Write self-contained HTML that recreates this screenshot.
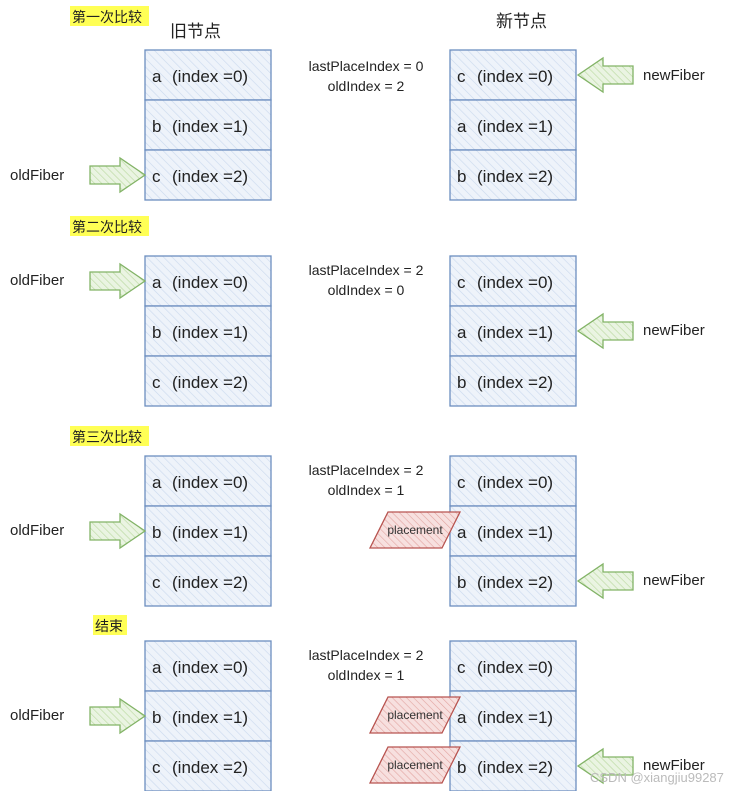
<!DOCTYPE html>
<html><head><meta charset="utf-8"><style>
html,body{margin:0;padding:0;background:#fff;}
svg{display:block;}
text{font-family:"Liberation Sans","Noto Sans CJK SC",sans-serif;}
</style></head><body>
<svg width="730" height="791" viewBox="0 0 730 791" xmlns="http://www.w3.org/2000/svg">
<defs>
<pattern id="hb" width="6" height="6" patternUnits="userSpaceOnUse" patternTransform="rotate(-45)">
<rect width="6" height="6" fill="#eef3fa"/><line x1="0" y1="0" x2="0" y2="6" stroke="#c9d8ee" stroke-width="1.2"/></pattern>
<pattern id="hg" width="5" height="5" patternUnits="userSpaceOnUse" patternTransform="rotate(-45)">
<rect width="5" height="5" fill="#eaf4e2"/><line x1="0" y1="0" x2="0" y2="5" stroke="#b9d99f" stroke-width="1.2"/></pattern>
<pattern id="hr" width="5" height="5" patternUnits="userSpaceOnUse" patternTransform="rotate(-45)">
<rect width="5" height="5" fill="#f7e0df"/><line x1="0" y1="0" x2="0" y2="5" stroke="#e2a4a1" stroke-width="1.2"/></pattern>
<g id="box"><rect x="0" y="0" width="126" height="50" fill="url(#hb)" stroke="#6c8ebf" stroke-width="1.3"/></g>
<g id="ra"><path d="M0 8 H30 V0 L55 17 L30 34 V26 H0 Z" fill="url(#hg)" stroke="#82b366" stroke-width="1.3"/></g>
<g id="la"><path d="M55 8 H25 V0 L0 17 L25 34 V26 H55 Z" fill="url(#hg)" stroke="#82b366" stroke-width="1.3"/></g>
<g id="pl"><path d="M18 0 H90 L72 36 H0 Z" fill="url(#hr)" stroke="#b85450" stroke-width="1.3"/><text x="45" y="22" font-size="12" text-anchor="middle" fill="#333">placement</text></g>
</defs>

<g font-size="17" fill="#222">
<!-- section 1 -->
<rect x="70" y="6" width="79" height="20" fill="#ffff55"/>
<text x="72" y="22" font-size="14">第一次比较</text>
<text x="170" y="37" font-size="17">旧节点</text>
<text x="496" y="27" font-size="17">新节点</text>
<use href="#box" x="145" y="50"/><use href="#box" x="145" y="100"/><use href="#box" x="145" y="150"/>
<text x="152" y="82">a</text><text x="172" y="82">(index =0)</text>
<text x="152" y="132">b</text><text x="172" y="132">(index =1)</text>
<text x="152" y="182">c</text><text x="172" y="182">(index =2)</text>
<use href="#box" x="450" y="50"/><use href="#box" x="450" y="100"/><use href="#box" x="450" y="150"/>
<text x="457" y="82">c</text><text x="477" y="82">(index =0)</text>
<text x="457" y="132">a</text><text x="477" y="132">(index =1)</text>
<text x="457" y="182">b</text><text x="477" y="182">(index =2)</text>
<text x="366" y="71" font-size="14" text-anchor="middle">lastPlaceIndex = 0</text>
<text x="366" y="91" font-size="14" text-anchor="middle">oldIndex = 2</text>
<use href="#ra" x="90" y="158"/><text x="10" y="180" font-size="15">oldFiber</text>
<use href="#la" x="578" y="58"/><text x="643" y="80" font-size="15">newFiber</text>

<!-- section 2 -->
<rect x="70" y="216" width="79" height="20" fill="#ffff55"/>
<text x="72" y="232" font-size="14">第二次比较</text>
<use href="#box" x="145" y="256"/><use href="#box" x="145" y="306"/><use href="#box" x="145" y="356"/>
<text x="152" y="288">a</text><text x="172" y="288">(index =0)</text>
<text x="152" y="338">b</text><text x="172" y="338">(index =1)</text>
<text x="152" y="388">c</text><text x="172" y="388">(index =2)</text>
<use href="#box" x="450" y="256"/><use href="#box" x="450" y="306"/><use href="#box" x="450" y="356"/>
<text x="457" y="288">c</text><text x="477" y="288">(index =0)</text>
<text x="457" y="338">a</text><text x="477" y="338">(index =1)</text>
<text x="457" y="388">b</text><text x="477" y="388">(index =2)</text>
<text x="366" y="275" font-size="14" text-anchor="middle">lastPlaceIndex = 2</text>
<text x="366" y="295" font-size="14" text-anchor="middle">oldIndex = 0</text>
<use href="#ra" x="90" y="264"/><text x="10" y="285" font-size="15">oldFiber</text>
<use href="#la" x="578" y="314"/><text x="643" y="335" font-size="15">newFiber</text>

<!-- section 3 -->
<rect x="70" y="426" width="79" height="20" fill="#ffff55"/>
<text x="72" y="442" font-size="14">第三次比较</text>
<use href="#box" x="145" y="456"/><use href="#box" x="145" y="506"/><use href="#box" x="145" y="556"/>
<text x="152" y="488">a</text><text x="172" y="488">(index =0)</text>
<text x="152" y="538">b</text><text x="172" y="538">(index =1)</text>
<text x="152" y="588">c</text><text x="172" y="588">(index =2)</text>
<use href="#box" x="450" y="456"/><use href="#box" x="450" y="506"/><use href="#box" x="450" y="556"/>
<text x="457" y="488">c</text><text x="477" y="488">(index =0)</text>
<text x="457" y="538">a</text><text x="477" y="538">(index =1)</text>
<text x="457" y="588">b</text><text x="477" y="588">(index =2)</text>
<text x="366" y="475" font-size="14" text-anchor="middle">lastPlaceIndex = 2</text>
<text x="366" y="495" font-size="14" text-anchor="middle">oldIndex = 1</text>
<use href="#ra" x="90" y="514"/><text x="10" y="535" font-size="15">oldFiber</text>
<use href="#la" x="578" y="564"/><text x="643" y="585" font-size="15">newFiber</text>
<use href="#pl" x="370" y="512"/>

<!-- section 4 -->
<rect x="93" y="615" width="34" height="20" fill="#ffff55"/>
<text x="95" y="631" font-size="14">结束</text>
<use href="#box" x="145" y="641"/><use href="#box" x="145" y="691"/><use href="#box" x="145" y="741"/>
<text x="152" y="673">a</text><text x="172" y="673">(index =0)</text>
<text x="152" y="723">b</text><text x="172" y="723">(index =1)</text>
<text x="152" y="773">c</text><text x="172" y="773">(index =2)</text>
<use href="#box" x="450" y="641"/><use href="#box" x="450" y="691"/><use href="#box" x="450" y="741"/>
<text x="457" y="673">c</text><text x="477" y="673">(index =0)</text>
<text x="457" y="723">a</text><text x="477" y="723">(index =1)</text>
<text x="457" y="773">b</text><text x="477" y="773">(index =2)</text>
<text x="366" y="660" font-size="14" text-anchor="middle">lastPlaceIndex = 2</text>
<text x="366" y="680" font-size="14" text-anchor="middle">oldIndex = 1</text>
<use href="#ra" x="90" y="699"/><text x="10" y="720" font-size="15">oldFiber</text>
<use href="#la" x="578" y="749"/><text x="643" y="770" font-size="15">newFiber</text>
<use href="#pl" x="370" y="697"/>
<use href="#pl" x="370" y="747"/>
<text x="590" y="782" font-size="13" fill="#bbb">CSDN @xiangjiu99287</text>
</g>
</svg>
</body></html>
